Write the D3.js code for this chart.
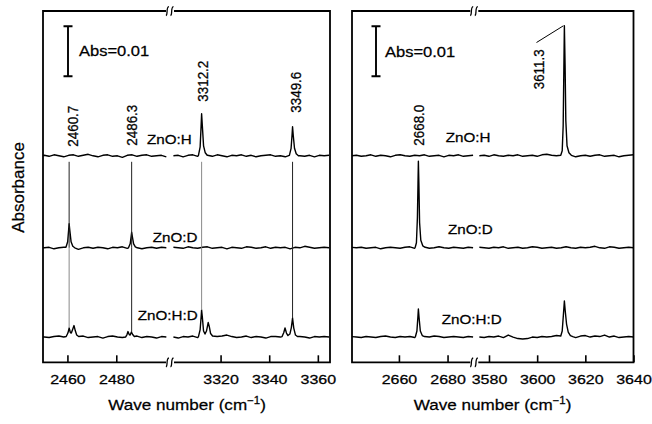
<!DOCTYPE html>
<html>
<head>
<meta charset="utf-8">
<script src="https://cdn.jsdelivr.net/npm/d3@7"></script>
<style>
  body { margin: 0; background: #fff; }
  text { font-family: "Liberation Sans", Arial, sans-serif; fill: #000; stroke: #000; stroke-width: 0.25px; }
</style>
</head>
<body>
<div id="chartDiv"></div>
<script>
// absorbance values are in mAbs (0.001 Abs)

// sampling grids for the baseline of each axis segment
var gridLeftA = d3.range(2448.5, 2501, 2);
var gridLeftB = d3.range(3300.6, 3366, 2);
var gridRightA = d3.range(2640.5, 2691, 2);
var gridRightB = d3.range(3576, 3641, 2);

var sampleNames = ["ZnO:H", "ZnO:D", "ZnO:H:D"];
var sampleOffsets = [41.3, 22.9, 5.05];

// baseline wiggle
var noiseLeftA = [
  [0,0.1,-0.1,0.2,0,-0.2,0.1,0.2,-0.1,0.1,0.3,0,-0.2,0.1,0.2,-0.1,0,-0.3,0.1,0.2,-0.1,0.1,0.2,-0.1,0,0.1,-0.2],
  [0.1,0,0.1,-0.2,0,0.1,0.2,-0.1,-0.3,0,0.1,-0.1,0.1,0,-0.2,0.1,0,0.2,-0.1,0,0.1,-0.2,0,0.1,-0.1,0.1,0],
  [0.1,0,-0.1,0.1,0.2,0,-0.2,0.1,0,0.2,-0.1,0,0.1,-0.2,0.1,0.2,0,-0.1,0.1,0,0.2,-0.1,0.1,0,-0.2,0.1,0]
];
var noiseLeftB = [
  [0,0.1,-0.2,0.1,0.2,-0.1,0,0.1,-0.1,0.2,0,-0.2,0.1,0,0.2,-0.1,0.1,-0.2,0,0.1,0.2,-0.1,0,-0.2,0.1,0.2,0,-0.1,0.1,-0.2,0.1,0,0.1],
  [0.1,0,-0.1,0.2,0,-0.1,0.1,0.2,-0.1,0,0.1,-0.2,0.1,0,-0.1,0.2,0.1,-0.1,0,0.2,-0.1,0.1,0,0.1,-0.2,0.1,0,0.3,0.1,-0.1,0,0.1,0],
  [0,-0.2,0.1,0,0.2,-0.1,0.1,0,-0.1,0.1,0.2,0.4,0.1,-0.1,0,0.2,-0.1,0.1,0,-0.2,0.1,0.1,0,0.2,0.1,-0.1,0.1,0,-0.2,0.1,0,0.1,0]
];
var noiseRightA = [
  [0,0.1,-0.1,0,0.2,-0.1,0.1,0,-0.2,0.1,0.2,0,-0.1,0.1,0,0.2,-0.1,0,0.1,-0.2,0.1,0,0.2,-0.1,0,0.1],
  [0.1,0,0.1,-0.1,0,0.1,-0.2,0,0.1,0,-0.1,0.1,0.2,-0.1,0,0.1,-0.1,0,0.2,0,-0.1,0.1,0,-0.1,0.1,0],
  [0.1,0,-0.1,0.1,0,-0.1,0.1,0.2,0,-0.1,0.1,0,0.1,-0.1,0,0.1,0,0.2,0.1,-0.1,0,0.1,0,-0.1,0.1,0]
];
var noiseRightB = [
  [0,0.1,-0.1,0.2,0,-0.1,0.1,0,0.2,-0.1,0,0.1,-0.1,0.2,0.3,0.1,0,0,-0.1,0.1,-0.2,0,0.1,-0.1,0.1,0.2,-0.1,0,0.1,-0.2,0,0.1,0.2],
  [0.1,0,-0.1,0.1,0,0.2,-0.1,0,0.1,-0.1,0,0.2,0.1,-0.1,0,0.1,-0.1,0,0.2,0,-0.1,0.1,0,0.1,0.3,0,-0.1,0.2,0.1,-0.1,0,0.1,0],
  [0,-0.1,0.1,0,0.2,-0.1,0.4,0,-0.3,-0.4,-0.3,0,-0.1,0.1,0,0.1,0.3,0,0,0.1,-0.1,0.2,0.3,0,0.2,0.1,0.4,0,0.2,-0.1,0,0.1,0]
];

// absorption lines: [wave number, mAbs] points across each peak
var peaksLeft = [
  [ // ZnO:H
    [[3310.9,0.1],[3311.6,1.8],[3312.0,6.0],[3312.2,8.4],[3312.5,6.0],[3313.0,2.0],[3313.7,0.6],[3314.5,0.1]],
    [[3348.3,0.1],[3349.0,1.5],[3349.4,4.2],[3349.6,5.8],[3349.9,4.0],[3350.4,1.5],[3351.1,0.4],[3352.0,0.0]]
  ],
  [ // ZnO:D
    [[2459.4,0.1],[2460.1,1.2],[2460.5,3.6],[2460.7,4.8],[2461.0,3.4],[2461.5,1.2],[2462.2,0.3],[2463.0,0.0]],
    [[2485.0,0.0],[2485.7,0.8],[2486.1,2.3],[2486.3,3.1],[2486.6,2.2],[2487.1,0.8],[2487.8,0.2],[2488.6,0.0]]
  ],
  [ // ZnO:H:D
    [[2459.5,0.1],[2460.2,0.8],[2460.7,1.8],[2461.2,0.9],[2461.6,0.8],[2462.2,1.6],[2462.7,2.3],[2463.2,1.3],[2463.8,0.4],[2464.6,0.1]],
    [[2483.8,0.0],[2484.4,0.5],[2484.8,1.1],[2485.3,0.5],[2485.7,0.4],[2486.2,1.0],[2486.7,0.5],[2487.4,0.1]],
    [[3310.9,0.1],[3311.6,1.5],[3312.0,4.0],[3312.2,5.4],[3312.5,4.0],[3313.0,1.2],[3313.6,0.6],[3314.2,1.2],[3314.9,2.9],[3315.4,2.0],[3315.9,0.7],[3316.7,0.2]],
    [[3345.3,0.1],[3346.0,0.9],[3346.5,1.8],[3347.1,0.8],[3347.7,0.3],[3348.5,0.6],[3349.1,1.9],[3349.6,3.8],[3350.1,1.8],[3350.8,0.4],[3351.6,0.1]]
  ]
];
var peaksRight = [
  [ // ZnO:H
    [[3609.8,0.1],[3610.4,1.0],[3610.8,6],[3611.1,18],[3611.3,26],[3611.6,18],[3611.9,7],[3612.4,2.0],[3613.2,0.6],[3614.2,0.1]]
  ],
  [ // ZnO:D
    [[2666.7,0.1],[2667.2,1.0],[2667.6,6],[2667.85,13],[2668.0,17.3],[2668.2,13],[2668.5,5],[2669.0,1.5],[2669.8,0.4],[2670.8,0.1]]
  ],
  [ // ZnO:H:D
    [[2666.8,0.1],[2667.4,1.2],[2667.8,4.0],[2668.0,5.6],[2668.3,3.8],[2668.8,1.2],[2669.6,0.3],[2670.5,0.1]],
    [[3609.8,0.2],[3610.4,1.2],[3610.9,4.5],[3611.3,7.2],[3611.7,5.0],[3612.2,2.6],[3612.9,1.0],[3613.8,0.3],[3614.8,0.1]]
  ]
];

var ticksLeft = [2460, 2480, 3320, 3340, 3360];
var ticksRight = [2660, 2680, 3580, 3600, 3620, 3640];

var markerLeft = [2460.7, 2486.3, 3312.2, 3349.6];
var markerLeftEnd = [1.8, 1.0, 5.4, 3.8];   // H:D peak height where the guide stops
var labelsLeft = ["2460.7", "2486.3", "3312.2", "3349.6"];
var labelsRight = ["2668.0", "3611.3"];
var scaleBarValue = 10;   // mAbs -> Abs=0.01

var W = 652, H = 424;
var plotTop = 11, plotBottom = 362.3;

var svg = d3.select("#chartDiv").append("svg")
    .attr("width", W)
    .attr("height", H);
svg.append("rect").attr("width", W).attr("height", H).attr("fill", "#fff");

var y = d3.scaleLinear().domain([0, 70.26]).range([plotBottom, plotTop]);

// stretched text, the original lettering is wide
function stext(g, x, yy, str, size, sx, rot, anchor) {
    return g.append("text")
        .attr("transform", "translate(" + x + "," + yy + ") scale(" + sx + ",1)" + (rot ? " rotate(-90)" : ""))
        .attr("font-size", size)
        .attr("text-anchor", anchor || "start")
        .text(str);
}

function buildTrace(grid, noise, peaks) {
    var pts = [];
    grid.forEach(function (x, i) {
        var inPeak = peaks.some(function (p) { return x >= p[0][0] && x <= p[p.length - 1][0]; });
        if (!inPeak) pts.push([x, noise[i]]);
    });
    peaks.forEach(function (p) { p.forEach(function (d) { pts.push(d); }); });
    pts.sort(function (a, b) { return a[0] - b[0]; });
    return pts;
}

function breakMark(g, bx, by) {
    g.append("rect").attr("x", bx - 4).attr("y", by - 2).attr("width", 8).attr("height", 4).attr("fill", "#fff");
    [-2.3, 2.3].forEach(function (dx) {
        var x0 = bx + dx;
        g.append("path")
            .attr("d", "M" + (x0 - 1.8) + "," + (by + 4.5) + " C" + (x0 + 0.5) + "," + (by + 4) + " " + (x0 - 2) + "," + (by - 3.5) + " " + (x0 + 1.2) + "," + (by - 4.5))
            .attr("fill", "none")
            .attr("stroke", "#000")
            .attr("stroke-width", 1.3);
    });
}

function makePanel(cfg) {
    var g = svg.append("g");
    var xs = cfg.segments.map(function (s) {
        return d3.scaleLinear().domain(s.domain).range(s.range);
    });
    var left = cfg.segments[0].range[0], right = cfg.segments[1].range[1];
    var brk = cfg.segments[0].range[1];

    var clipId = "clip" + cfg.id;
    svg.append("clipPath").attr("id", clipId)
        .append("rect").attr("x", left).attr("y", plotTop).attr("width", right - left).attr("height", plotBottom - plotTop);

    var line = d3.line();

    // traces
    sampleNames.forEach(function (name, k) {
        cfg.segments.forEach(function (s, j) {
            var pk = cfg.peaks[k].filter(function (p) { return p[0][0] >= s.domain[0] && p[0][0] <= s.domain[1]; });
            var pts = buildTrace(s.grid, s.noise[k], pk);
            g.append("path")
                .attr("clip-path", "url(#" + clipId + ")")
                .attr("d", line.x(function (d) { return xs[j](d[0]); })
                               .y(function (d) { return y(sampleOffsets[k] + d[1]); })(pts))
                .attr("fill", "none")
                .attr("stroke", "#000")
                .attr("stroke-width", 1.4)
                .attr("stroke-linejoin", "round");
        });
        var lp = cfg.nameLabels[k];
        stext(g, lp[0], lp[1], name, 13, 1.17, false);
    });

    // axes with inward ticks
    cfg.segments.forEach(function (s, j) {
        var tv = cfg.ticks.filter(function (t) { return t >= s.domain[0] && t <= s.domain[1]; });
        var ax = g.append("g")
            .attr("transform", "translate(0," + plotBottom + ")")
            .call(d3.axisBottom(xs[j]).tickValues(tv).tickFormat(d3.format("d"))
                .tickSizeInner(-7).tickSizeOuter(0).tickPadding(13));
        ax.select(".domain").remove();
        ax.selectAll(".tick line").attr("stroke-width", 1.6);
        ax.selectAll(".tick text")
            .attr("font-size", 12.5)
            .attr("font-family", "Liberation Sans, Arial, sans-serif")
            .attr("transform", "scale(1.28,1)");
    });

    // frame
    g.append("path")
        .attr("d", "M" + brk + "," + plotTop + " H" + left + " V" + plotBottom + " H" + brk +
                   " M" + brk + "," + plotTop + " H" + right + " V" + plotBottom + " H" + brk)
        .attr("fill", "none").attr("stroke", "#000").attr("stroke-width", 1.8);
    breakMark(g, brk, plotTop);
    breakMark(g, brk, plotBottom);

    // scale bar
    var bx = left + cfg.barDx, capW = 4.5;
    var y0 = y(57.2), y1 = y(57.2 + scaleBarValue);
    g.append("path")
        .attr("d", "M" + bx + "," + y0 + " V" + y1 + " M" + (bx - capW) + "," + y0 + " H" + (bx + capW) +
                   " M" + (bx - capW) + "," + y1 + " H" + (bx + capW))
        .attr("stroke", "#000").attr("stroke-width", 1.9).attr("fill", "none");
    stext(g, cfg.absLabel[0], cfg.absLabel[1], "Abs=0.01", 14.5, 1.14, false);

    // axis title
    var t = g.append("text")
        .attr("transform", "translate(" + cfg.titleX + ",410) scale(1.14,1)")
        .attr("font-size", 15)
        .attr("text-anchor", "middle");
    t.append("tspan").text("Wave number (cm");
    t.append("tspan").attr("dy", -6).attr("font-size", 10).text("\u22121");
    t.append("tspan").attr("dy", 6).text(")");

    return { g: g, xs: xs };
}

var pL = makePanel({
    id: "L",
    segments: [
        { domain: [2450, 2502], range: [43, 170], grid: gridLeftA, noise: noiseLeftA },
        { domain: [3299.2, 3365], range: [170, 330], grid: gridLeftB, noise: noiseLeftB }
    ],
    peaks: peaksLeft,
    ticks: ticksLeft,
    nameLabels: [[147, 144], [152.7, 241.7], [137.7, 320]],
    barDx: 25,
    absLabel: [79, 56],
    titleX: 187
});

var pR = makePanel({
    id: "R",
    segments: [
        { domain: [2640.7, 2691], range: [352, 474.3], grid: gridRightA, noise: noiseRightA },
        { domain: [3573.9, 3640], range: [474.3, 633.5], grid: gridRightB, noise: noiseRightB }
    ],
    peaks: peaksRight,
    ticks: ticksRight,
    nameLabels: [[445.7, 141.7], [448, 234.3], [441.7, 324]],
    barDx: 24,
    absLabel: [385, 57.3],
    titleX: 492.5
});

// guide lines in the left panel: dark down to ZnO:D, the 2460.7 and 3312.2 ones grey below
var guideUpper = ["#222", "#222", "#8a8a8a", "#222"];
var guideLower = ["#8a8a8a", "#222", "#8a8a8a", "#222"];
markerLeft.forEach(function (m, i) {
    var x = m < 3000 ? pL.xs[0](m) : pL.xs[1](m);
    var yMid = y(sampleOffsets[1]);
    pL.g.append("line")
        .attr("x1", x).attr("x2", x)
        .attr("y1", y(sampleOffsets[0] - 1.2))
        .attr("y2", yMid)
        .attr("stroke", guideUpper[i])
        .attr("stroke-width", 1);
    pL.g.append("line")
        .attr("x1", x).attr("x2", x)
        .attr("y1", yMid)
        .attr("y2", y(sampleOffsets[2] + markerLeftEnd[i]))
        .attr("stroke", guideLower[i])
        .attr("stroke-width", 1);
});

// peak labels
var labelPosLeft = [[78.3, 146.7], [136.7, 145.7], [208.3, 101.7], [300.7, 112.7]];
labelsLeft.forEach(function (s, i) {
    stext(pL.g, labelPosLeft[i][0], labelPosLeft[i][1], s, 13.4, 1.15, true);
});
var labelPosRight = [[424, 145.7], [544, 89.3]];
labelsRight.forEach(function (s, i) {
    stext(pR.g, labelPosRight[i][0], labelPosRight[i][1], s, 13.4, 1.15, true);
});
// leader from 3611.3 label to its peak
var px = pR.xs[1](3611.3);
pR.g.append("line")
    .attr("x1", 536.5).attr("y1", 42.5)
    .attr("x2", px - 1).attr("y2", y(sampleOffsets[0] + 26))
    .attr("stroke", "#000").attr("stroke-width", 1);

// y title
stext(svg, 24, 187.5, "Absorbance", 17, 1.02, true, "middle");
</script>
</body>
</html>
